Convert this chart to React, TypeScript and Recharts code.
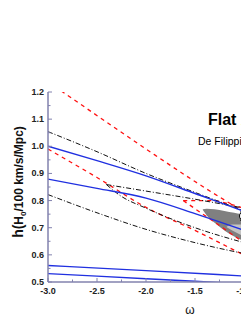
import React from 'react';
import {
  ComposedChart,
  Line,
  Area,
  Scatter,
  ErrorBar,
  XAxis,
  YAxis,
} from 'recharts';

// omega (w) vs h
const BLUE_1 = [{ w: -3, h: 1.0 }, { w: -2.5, h: 0.947 }, { w: -2, h: 0.891 }, { w: -1.5, h: 0.826 }, { w: -1, h: 0.76 }, { w: -0.9, h: 0.746 }];
const BLUE_2 = [{ w: -3, h: 0.879 }, { w: -2.5, h: 0.845 }, { w: -2, h: 0.809 }, { w: -1.5, h: 0.752 }, { w: -1, h: 0.69 }, { w: -0.9, h: 0.677 }];
const BLUE_3 = [{ w: -3, h: 0.561 }, { w: -2, h: 0.542 }, { w: -1, h: 0.522 }, { w: -0.9, h: 0.52 }];
const BLUE_4 = [{ w: -3, h: 0.531 }, { w: -2, h: 0.512 }, { w: -1, h: 0.493 }];

const RED_OUTER_UP = [{ w: -3, h: 1.237 }, { w: -2.85, h: 1.2 }, { w: -2, h: 0.99 }, { w: -1.5, h: 0.87 }, { w: -1, h: 0.758 }, { w: -0.9, h: 0.736 }];
const RED_OUTER_LOW = [{ w: -3, h: 0.99 }, { w: -2.5, h: 0.885 }, { w: -2, h: 0.775 }, { w: -1.5, h: 0.69 }, { w: -1, h: 0.6 }, { w: -0.9, h: 0.583 }];
const RED_INNER_UP = [{ w: -1.62, h: 0.8 }, { w: -1.35, h: 0.8 }, { w: -1, h: 0.772 }, { w: -0.9, h: 0.762 }];
const RED_INNER_LOW = [{ w: -1.62, h: 0.8 }, { w: -1.5, h: 0.77 }, { w: -1.35, h: 0.733 }, { w: -1, h: 0.645 }, { w: -0.9, h: 0.62 }];

const DD_TOP = [{ w: -3, h: 1.054 }, { w: -2.5, h: 0.98 }, { w: -2, h: 0.9 }, { w: -1.5, h: 0.83 }, { w: -1, h: 0.762 }, { w: -0.9, h: 0.748 }];
const DD_ELL_UP = [{ w: -2.404, h: 0.859 }, { w: -2, h: 0.835 }, { w: -1.5, h: 0.805 }, { w: -1, h: 0.772 }, { w: -0.9, h: 0.765 }];
const DD_ELL_LOW = [{ w: -2.404, h: 0.859 }, { w: -2.27, h: 0.82 }, { w: -2, h: 0.772 }, { w: -1.5, h: 0.7 }, { w: -1, h: 0.645 }, { w: -0.9, h: 0.635 }];
const DD_BOTTOM = [{ w: -3, h: 0.822 }, { w: -2.5, h: 0.755 }, { w: -2, h: 0.694 }, { w: -1.5, h: 0.645 }, { w: -1, h: 0.605 }, { w: -0.9, h: 0.598 }];

const GRAY_OUTER = [
  { w: -1.42, r: [0.765, 0.768] },
  { w: -1.38, r: [0.745, 0.77] },
  { w: -1.3, r: [0.718, 0.768] },
  { w: -1.2, r: [0.69, 0.762] },
  { w: -1.1, r: [0.668, 0.755] },
  { w: -1.0, r: [0.65, 0.748] },
  { w: -0.9, r: [0.632, 0.74] },
];
const GRAY_INNER = [
  { w: -1.18, r: [0.703, 0.703] },
  { w: -1.12, r: [0.69, 0.712] },
  { w: -1.0, r: [0.668, 0.712] },
  { w: -0.9, r: [0.652, 0.708] },
];

const POINT = [{ w: -1.0, h: 0.743, e: 0.015 }];

const X_TICKS = [-3, -2.75, -2.5, -2.25, -2, -1.75, -1.5, -1.25, -1, -0.75, -0.5, -0.25, 0];
const Y_TICKS = [0.5, 0.55, 0.6, 0.65, 0.7, 0.75, 0.8, 0.85, 0.9, 0.95, 1.0, 1.05, 1.1, 1.15, 1.2];

const AXIS_COLOR = '#8282ae';
const BLUE = '#2030e0';
const RED = '#ff1010';
const FONT = '"Liberation Sans", Arial, sans-serif';

const isStep = (v: number, step: number) => Math.abs(v / step - Math.round(v / step)) < 1e-6;

const BottomTick = (props: any) => {
  const { x, y, payload } = props;
  const v = payload.value;
  const major = isStep(v, 0.5);
  return (
    <g>
      <line x1={x} x2={x} y1={y} y2={y - (major ? 4 : 2.5)} stroke={AXIS_COLOR} />
      {major && (
        <text x={x} y={y + 12} textAnchor="middle" fontSize={9} fontWeight="bold" fontFamily={FONT} fill="#222">
          {v.toFixed(1)}
        </text>
      )}
    </g>
  );
};

const TopTick = (props: any) => {
  const { x, y, payload } = props;
  const major = isStep(payload.value, 0.5);
  return <line x1={x} x2={x} y1={y} y2={y + (major ? 4 : 2.5)} stroke={AXIS_COLOR} />;
};

const LeftTick = (props: any) => {
  const { x, y, payload } = props;
  const v = payload.value;
  const major = isStep(v, 0.1);
  return (
    <g>
      <line x1={x} x2={x + (major ? 4 : 2.5)} y1={y} y2={y} stroke={AXIS_COLOR} />
      {major && (
        <text x={x - 4} y={y + 3} textAnchor="end" fontSize={9} fontWeight="bold" fontFamily={FONT} fill="#222">
          {v.toFixed(1)}
        </text>
      )}
    </g>
  );
};

const YLabel = (props: any) => {
  const vb = props.viewBox;
  const cx = vb.x + 15;
  const cy = vb.y + vb.height / 2 - 5;
  return (
    <text
      x={cx}
      y={cy}
      textAnchor="middle"
      fontFamily={FONT}
      fontWeight="bold"
      fill="#111"
      transform={`rotate(-90, ${cx}, ${cy})`}
    >
      <tspan fontSize={14}>h(</tspan>
      <tspan fontSize={12}>H</tspan>
      <tspan fontSize={8} dy={3}>0</tspan>
      <tspan fontSize={12} dy={-3}>/100 km/s/Mpc)</tspan>
    </text>
  );
};

const XLabel = (props: any) => {
  const vb = props.viewBox;
  return (
    <text x={vb.x + vb.width / 2 - 5} y={vb.y + 32} textAnchor="middle" fontSize={12} fontFamily={FONT} fill="#111">
      ω
    </text>
  );
};

const lineProps = { dataKey: 'h', dot: false, isAnimationActive: false, type: 'monotone' as const };
const blue = { ...lineProps, stroke: BLUE, strokeWidth: 1.4 };
const red = { ...lineProps, stroke: RED, strokeWidth: 1.3, strokeDasharray: '4 4' };
const dd = { ...lineProps, stroke: '#111', strokeWidth: 1, strokeDasharray: '5 2 1 2' };

export default function App() {
  return (
    <div style={{ position: 'relative', width: 241, height: 315, overflow: 'hidden' }}>
      <ComposedChart width={339} height={315} margin={{ top: 84, right: 5, bottom: 11, left: 0 }}>
        <XAxis
          dataKey="w"
          type="number"
          domain={[-3, 0]}
          ticks={X_TICKS}
          interval={0}
          allowDataOverflow
          tickSize={0}
          tickMargin={0}
          tick={<BottomTick />}
          tickLine={false}
          axisLine={{ stroke: AXIS_COLOR, strokeWidth: 1.5 }}
          height={30}
          label={<XLabel />}
        />
        <XAxis
          xAxisId="top"
          orientation="top"
          dataKey="w"
          type="number"
          domain={[-3, 0]}
          ticks={X_TICKS}
          interval={0}
          tickSize={0}
          tickMargin={0}
          tick={<TopTick />}
          tickLine={false}
          axisLine={{ stroke: AXIS_COLOR, strokeWidth: 1.5 }}
          height={0}
        />
        <YAxis
          type="number"
          domain={[0.5, 1.2]}
          ticks={Y_TICKS}
          interval={0}
          allowDataOverflow
          tickSize={0}
          tickMargin={0}
          tick={<LeftTick />}
          tickLine={false}
          axisLine={{ stroke: AXIS_COLOR, strokeWidth: 1.5 }}
          width={40}
          label={<YLabel />}
        />

        <Area data={GRAY_OUTER} dataKey="r" type="monotone" fill="#808080" fillOpacity={1} stroke="none" isAnimationActive={false} />
        <Area data={GRAY_INNER} dataKey="r" type="monotone" fill="#c4c4c4" fillOpacity={1} stroke="none" isAnimationActive={false} />

        <Line data={RED_OUTER_UP} {...red} />
        <Line data={RED_OUTER_LOW} {...red} />
        <Line data={RED_INNER_UP} {...red} />
        <Line data={RED_INNER_LOW} {...red} />

        <Line data={DD_TOP} {...dd} />
        <Line data={DD_ELL_UP} {...dd} />
        <Line data={DD_ELL_LOW} {...dd} />
        <Line data={DD_BOTTOM} {...dd} />

        <Line data={BLUE_1} {...blue} />
        <Line data={BLUE_2} {...blue} />
        <Line data={BLUE_3} {...blue} />
        <Line data={BLUE_4} {...blue} />

        <Scatter
          data={POINT}
          dataKey="h"
          fill="#fff"
          stroke="#000"
          strokeWidth={1}
          shape="circle"
          isAnimationActive={false}
        >
          <ErrorBar dataKey="e" direction="y" width={4} stroke="#000" strokeWidth={1} />
        </Scatter>
      </ComposedChart>
      <svg width={241} height={315} style={{ position: 'absolute', left: 0, top: 0, pointerEvents: 'none' }}>
        <text x={200} y={117} fontSize={16} fontWeight="bold" fontFamily={FONT} fill="#000">
          Flat XCDM
        </text>
        <text x={190} y={136.5} fontSize={10.5} fontFamily={FONT} fill="#000">
          De Filippis et al. (2005)
        </text>
      </svg>
    </div>
  );
}
